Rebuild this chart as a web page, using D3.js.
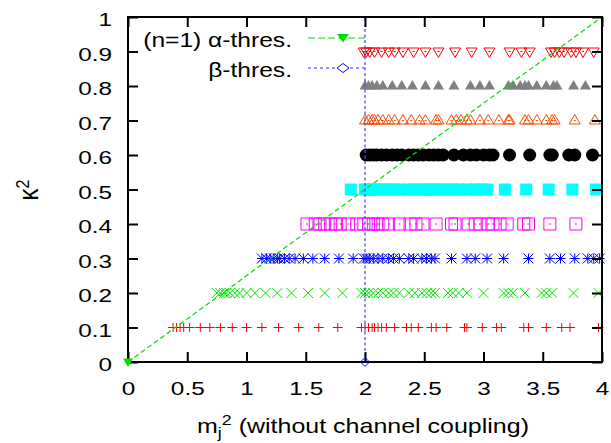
<!DOCTYPE html>
<html><head><meta charset="utf-8">
<script src="https://cdn.jsdelivr.net/npm/d3@7"></script>
<style>body{margin:0;background:#fff}svg{display:block}text{font-family:"Liberation Sans",Arial,sans-serif;fill:#000}</style>
</head><body><svg id="c" width="611" height="443"></svg>
<script>
// ---- data ----
const xTicks = [0, 0.5, 1, 1.5, 2, 2.5, 3, 3.5, 4];
const xTickLabels = ["0", "0.5", "1", "1.5", "2", "2.5", "3", "3.5", "4"];
const yTicks = [0, 0.1, 0.2, 0.3, 0.4, 0.5, 0.6, 0.7, 0.8, 0.9, 1];
const yTickLabels = ["0", "0.1", "0.2", "0.3", "0.4", "0.5", "0.6", "0.7", "0.8", "0.9", "1"];
const kappaLevels = [0.1, 0.2, 0.3, 0.4, 0.5, 0.6, 0.7, 0.8, 0.9];
const row1X = [0.38,0.41,0.44,0.47,0.52,0.61,0.69,0.78,0.88,1.0,1.13,1.27,1.44,1.61,1.77,1.97,2.0,2.03,2.06,2.08,2.11,2.14,2.18,2.25,2.35,2.39,2.45,2.56,2.6,2.69,2.84,2.86,2.99,3.11,3.15,3.34,3.38,3.53,3.66,3.73,3.97];
const row2X = [0.75,0.78,0.81,0.83,0.86,0.9,0.94,1.0,1.07,1.16,1.26,1.38,1.52,1.66,1.81,1.97,2.0,2.03,2.07,2.11,2.15,2.2,2.24,2.29,2.37,2.42,2.48,2.52,2.56,2.59,2.7,2.74,2.79,2.86,3.0,3.17,3.21,3.25,3.35,3.49,3.53,3.58,3.76,3.97];
const row3X = [1.13,1.17,1.2,1.23,1.26,1.28,1.32,1.36,1.41,1.48,1.56,1.66,1.78,1.9,1.99,2.01,2.04,2.07,2.11,2.15,2.2,2.24,2.29,2.37,2.41,2.48,2.52,2.56,2.59,2.73,2.86,2.93,3.03,3.17,3.38,3.56,3.65,3.77,3.88,3.93,3.98];
const row4X = [1.51,1.58,1.62,1.66,1.71,1.75,1.79,1.86,1.93,1.99,2.03,2.07,2.11,2.15,2.2,2.29,2.38,2.43,2.49,2.6,2.73,2.76,2.87,2.93,2.97,3.04,3.08,3.14,3.2,3.34,3.38,3.56,3.78];
const row5X = [1.88,2.0,2.03,2.07,2.11,2.15,2.2,2.24,2.29,2.37,2.41,2.48,2.52,2.56,2.6,2.65,2.7,2.74,2.79,2.86,2.93,2.98,3.03,3.18,3.36,3.55,3.75,3.95];
const row6X = [2.01,2.04,2.07,2.1,2.14,2.18,2.23,2.27,2.31,2.37,2.41,2.45,2.49,2.54,2.58,2.62,2.66,2.75,2.83,2.89,2.94,3.0,3.05,3.08,3.22,3.39,3.56,3.58,3.72,3.77,3.92];
const row7X = [2.0,2.03,2.06,2.08,2.11,2.15,2.2,2.25,2.32,2.39,2.46,2.51,2.6,2.62,2.73,2.77,2.81,2.86,2.89,2.97,3.04,3.13,3.21,3.22,3.35,3.38,3.45,3.53,3.58,3.6,3.77,3.94];
const row8X = [2.0,2.03,2.06,2.1,2.15,2.23,2.31,2.4,2.51,2.62,2.75,2.89,2.97,3.05,3.21,3.25,3.31,3.35,3.38,3.45,3.53,3.59,3.62,3.76,3.86];
const row9X = [1.99,2.01,2.04,2.08,2.14,2.2,2.25,2.32,2.41,2.51,2.62,2.76,2.9,3.05,3.22,3.32,3.39,3.57,3.6,3.64,3.68,3.74,3.78,3.84,3.93];
const rowsX = [row1X,row2X,row3X,row4X,row5X,row6X,row7X,row8X,row9X];
const rowMarkers = ["plus","cross","star","sqDot","sqFill","circle","triDot","triFill","triDownDot"];
const rowColors = ["#ff0000","#00e600","#0000ff","#ff00ff","#00ffff","#000000","#ff4a00","#808080","#ff0000"];
const alphaX = [0, 4], alphaY = [0, 1];
const betaX = [2, 2], betaY = [0, 1];
const legendLabels = ["(n=1) \u03b1-thres.", "\u03b2-thres."];

// ---- layout ----
const svg = d3.select("#c");
const L = 128, R = 602, T = 17, B = 362;
const x = d3.scaleLinear([0, 4], [L, R]);
const y = d3.scaleLinear([0, 1], [B, T]);
const SX = 1.28, FS = 19;

svg.append("defs").append("clipPath").attr("id", "clip")
  .append("rect").attr("x", L).attr("y", T).attr("width", R - L).attr("height", B - T);

function shape(type) {
  switch (type) {
    case "plus": return "M-5,0H5M0,-4.5V4.5";
    case "cross": return "M-5,-5L5,5M-5,5L5,-5";
    case "star": return "M-5,0H5M0,-5V5M-5,-5L5,5M-5,5L5,-5";
    case "sqDot": case "sqFill": return "M-6,-6H6V6H-6Z";
    case "triDot": case "triFill": return "M0,-6L5.5,3.5H-5.5Z";
    case "triDownDot": return "M0,6L5.5,-3.5H-5.5Z";
  }
}

// ---- scatter rows ----
const g = svg.append("g");
rowsX.forEach((xs, i) => {
  const yv = kappaLevels[i], type = rowMarkers[i], col = rowColors[i];
  const grp = g.append("g");
  if (type === "circle") {
    grp.selectAll("circle").data(xs).join("circle")
      .attr("cx", d => x(d)).attr("cy", y(yv)).attr("r", 6.5).attr("fill", col);
  } else {
    const filled = type.endsWith("Fill");
    grp.selectAll("path").data(xs).join("path")
      .attr("transform", d => `translate(${x(d)},${y(yv)})`)
      .attr("d", shape(type))
      .attr("fill", filled ? col : "none")
      .attr("stroke", filled ? "none" : col)
      .attr("stroke-width", 1);
    if (type.endsWith("Dot")) {
      grp.selectAll("rect.dot").data(xs).join("rect").attr("class", "dot")
        .attr("x", d => x(d) - 1).attr("y", y(yv) - 0.5).attr("width", 2).attr("height", 1)
        .attr("fill", col);
    }
  }
});

// ---- threshold lines ----
const line = d3.line().x(d => x(d[0])).y(d => y(d[1]));
svg.append("path").attr("clip-path", "url(#clip)")
  .attr("d", line(alphaX.map((v, i) => [v, alphaY[i]])))
  .attr("fill", "none").attr("stroke", "#00dd00").attr("stroke-width", 1.2).attr("stroke-dasharray", "5,3");
svg.append("path").attr("clip-path", "url(#clip)")
  .attr("d", line(betaX.map((v, i) => [v, betaY[i]])))
  .attr("fill", "none").attr("stroke", "#5050ff").attr("stroke-width", 1.3).attr("stroke-dasharray", "3,2.5");

// ---- axes / frame ----
const ax = svg.append("g").attr("transform", `translate(0,${B})`)
  .call(d3.axisBottom(x).tickValues(xTicks).tickSize(-10).tickPadding(20).tickFormat((d, i) => xTickLabels[i]));
const axTop = svg.append("g").attr("transform", `translate(0,${T})`)
  .call(d3.axisTop(x).tickValues(xTicks).tickSize(-10).tickFormat(""));
const ay = svg.append("g").attr("transform", `translate(${L},0)`)
  .call(d3.axisLeft(y).tickValues(yTicks).tickSize(-10).tickPadding(16).tickFormat((d, i) => yTickLabels[i]));
const ayR = svg.append("g").attr("transform", `translate(${R},0)`)
  .call(d3.axisRight(y).tickValues(yTicks).tickSize(-10).tickFormat(""));
[ax, axTop, ay, ayR].forEach(a => {
  a.select(".domain").remove();
  a.selectAll(".tick line").attr("stroke", "#000").attr("stroke-width", 2);
  a.selectAll("text").style("font-size", FS + "px").attr("font-family", null);
});
ax.selectAll("text").attr("transform", `scale(${SX},1)`);
ay.selectAll("text").attr("x", -16 / SX).attr("dy", "0.47em").attr("transform", `scale(${SX},1)`);
svg.append("rect").attr("x", L).attr("y", T).attr("width", R - L).attr("height", B - T)
  .attr("fill", "none").attr("stroke", "#000").attr("stroke-width", 2);

// threshold start markers (drawn unclipped)
svg.append("path").attr("transform", `translate(${x(alphaX[0])},${y(alphaY[0])})`)
  .attr("d", "M-5,-3.5H5L0,5Z").attr("fill", "#00dd00");
svg.append("path").attr("transform", `translate(${x(betaX[0])},${y(betaY[0])})`)
  .attr("d", "M0,-4.5L4.5,0L0,4.5L-4.5,0Z").attr("fill", "none").attr("stroke", "#0000ff").attr("stroke-width", 1);

// ---- legend ----
const leg = svg.append("g");
const legY = [38, 68];
legendLabels.forEach((t, i) => {
  leg.append("text").attr("transform", `translate(292,${legY[i] + 8.5}) scale(1.23,1)`)
    .attr("text-anchor", "end").style("font-size", "20px").text(t);
  leg.append("line").attr("x1", 308).attr("x2", 368).attr("y1", legY[i]).attr("y2", legY[i])
    .attr("stroke", i === 0 ? "#00dd00" : "#3030ff").attr("stroke-width", 1.2)
    .attr("stroke-dasharray", i === 0 ? "7,3" : "3,3");
});
leg.append("path").attr("transform", `translate(343,${legY[0]})`).attr("d", "M-6,-4H6L0,4.5Z").attr("fill", "#00dd00");
leg.append("path").attr("transform", `translate(343,${legY[1]})`).attr("d", "M0,-4.5L6,0L0,4.5L-6,0Z")
  .attr("fill", "#fff").attr("stroke", "#0000ff").attr("stroke-width", 1);

// ---- axis titles ----
const xt = svg.append("text").attr("transform", `translate(363,433) scale(1.19,1)`)
  .attr("text-anchor", "middle").style("font-size", "21px");
xt.append("tspan").text("m");
xt.append("tspan").attr("dy", 5).style("font-size", "15px").text("j");
xt.append("tspan").attr("dy", -13).style("font-size", "15px").text("2");
xt.append("tspan").attr("dy", 8).text(" (without channel coupling)");

const yt = svg.append("text").attr("transform", `translate(38,190) rotate(-90) scale(1,1.15)`)
  .attr("text-anchor", "middle").style("font-size", "24px");
yt.append("tspan").text("\u03ba");
yt.append("tspan").attr("dy", -8).style("font-size", "16px").text("2");
</script></body></html>
